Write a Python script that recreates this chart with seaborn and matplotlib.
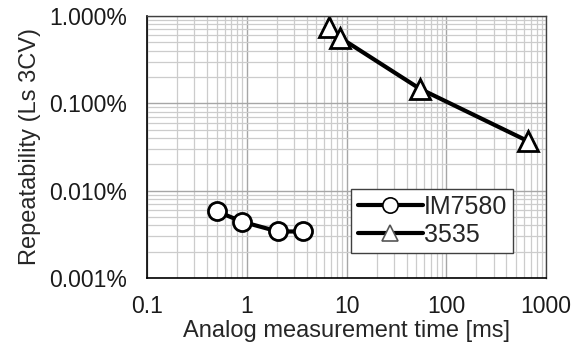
import matplotlib
matplotlib.use("Agg")
import matplotlib.pyplot as plt
import matplotlib.ticker as mticker
from matplotlib.lines import Line2D
import seaborn as sns
import pandas as pd

# measurement time [ms] and repeatability [%]
im7580_time = [0.5, 0.9, 2.05, 3.7]
im7580_rep = [0.0058, 0.0044, 0.0034, 0.0034]
hioki3535_time = [6.7, 8.7, 54, 650]
hioki3535_rep = [0.75, 0.56, 0.147, 0.037]

x_ticks = [0.1, 1, 10, 100, 1000]
y_ticks = [0.001, 0.01, 0.1, 1.0]

sns.set_style("white")
plt.rcParams["font.family"] = ["Liberation Sans", "DejaVu Sans"]

df_im = pd.DataFrame({"time": im7580_time, "rep": im7580_rep})
df_35 = pd.DataFrame({"time": hioki3535_time, "rep": hioki3535_rep})

fig = plt.figure(figsize=(5.78, 3.54), dpi=100)
ax = fig.add_axes([0.254, 0.215, 0.691, 0.74])

marker_kw = dict(color="black", linewidth=3, markerfacecolor="white",
                 markeredgecolor="black", markeredgewidth=2, sort=False)
sns.lineplot(data=df_im, x="time", y="rep", marker="o", markersize=13,
             ax=ax, **marker_kw)
sns.lineplot(data=df_35, x="time", y="rep", marker="^", markersize=15,
             ax=ax, **marker_kw)

ax.set_xscale("log")
ax.set_yscale("log")
ax.set_xlim(0.1, 1000)
ax.set_ylim(0.001, 1.0)
ax.set_xticks(x_ticks)
ax.set_yticks(y_ticks)
ax.xaxis.set_major_formatter(mticker.FuncFormatter(lambda v, p: f"{v:g}"))
ax.yaxis.set_major_formatter(mticker.FuncFormatter(lambda v, p: f"{v:.3f}%"))
ax.xaxis.set_minor_locator(mticker.LogLocator(base=10, subs=range(2, 10)))
ax.yaxis.set_minor_locator(mticker.LogLocator(base=10, subs=range(2, 10)))
ax.xaxis.set_minor_formatter(mticker.NullFormatter())
ax.yaxis.set_minor_formatter(mticker.NullFormatter())
ax.grid(True, which="major", color="#a6a6a6", linewidth=1)
ax.grid(True, which="minor", color="#cccccc", linewidth=0.9)
ax.tick_params(which="both", length=0, labelsize=16.5, colors="#1a1a1a")
ax.tick_params(axis="y", pad=14)
ax.tick_params(axis="x", pad=12)

for side in ["left", "bottom"]:
    ax.spines[side].set_color("black")
    ax.spines[side].set_linewidth(1.2)
for side in ["top", "right"]:
    ax.spines[side].set_color("#404040")
    ax.spines[side].set_linewidth(1)

ax.set_xlabel("Analog measurement time [ms]", fontsize=17, labelpad=2)
ax.set_ylabel("Repeatability (Ls 3CV)", fontsize=17, labelpad=6)

handles = [
    Line2D([], [], color="black", linewidth=3, marker="o", markersize=11,
           markerfacecolor="white", markeredgecolor="black", markeredgewidth=1.2),
    Line2D([], [], color="black", linewidth=3, marker="^", markersize=11,
           markerfacecolor="white", markeredgecolor="#555555", markeredgewidth=1.2),
]
leg = ax.legend(handles, ["IM7580", "3535"], loc="lower right",
                bbox_to_anchor=(0.918, 0.095), fontsize=18, frameon=True,
                fancybox=False, edgecolor="#404040", framealpha=1,
                handlelength=2.6, handletextpad=0.05, borderpad=0.25,
                labelspacing=0.15, borderaxespad=0)
leg.get_frame().set_linewidth(1)

fig.savefig("out.png", dpi=100)
